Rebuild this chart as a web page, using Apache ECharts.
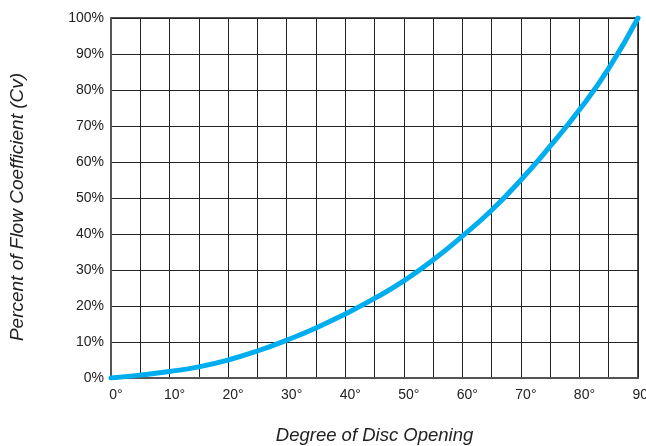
<!DOCTYPE html>
<html>
<head>
<meta charset="utf-8">
<script src="https://cdn.jsdelivr.net/npm/echarts@6/dist/echarts.min.js"></script>
<style>
html,body{margin:0;padding:0;background:#fff;}
#chart{width:646px;height:446px;}
</style>
</head>
<body>
<div id="chart"></div>
<script>
const degrees = [0, 5, 10, 15, 20, 25, 30, 35, 40, 45, 50, 55, 60, 65, 70, 75, 80, 85, 90];
const flowPercent = [0, 0.8, 1.8, 3.1, 5.0, 7.5, 10.5, 13.9, 17.8, 22.1, 27.0, 32.8, 39.4, 46.6, 55.0, 64.4, 74.5, 86.0, 100];
const xTitle = 'Degree of Disc Opening';
const yTitle = 'Percent of Flow Coefficient (Cv)';

const chart = echarts.init(document.getElementById('chart'), null, {renderer: 'canvas'});
const font = 'Liberation Sans, Arial, sans-serif';
chart.setOption({
  animation: false,
  backgroundColor: '#fff',
  grid: {left: 111, right: 8, top: 18, bottom: 68, show: true, borderColor: '#555', borderWidth: 2,
         outerBoundsMode: 'none', containLabel: false},
  xAxis: {
    type: 'value', min: 0, max: 90, interval: 5,
    name: xTitle, nameLocation: 'middle', nameGap: 48,
    nameTextStyle: {fontFamily: font, fontStyle: 'italic', fontSize: 18.5, color: '#222'},
    axisLine: {show: true, lineStyle: {color: '#555', width: 2}},
    axisTick: {show: false},
    axisLabel: {
      margin: 10, fontFamily: font, fontSize: 14, color: '#222', padding: [0, 0, 0, 10],
      formatter: v => (v % 10 === 0 ? v + '°' : '')
    },
    splitLine: {show: true, lineStyle: {color: '#222', width: 1}}
  },
  yAxis: {
    type: 'value', min: 0, max: 100, interval: 10,
    name: yTitle, nameLocation: 'middle', nameGap: 84,
    nameTextStyle: {fontFamily: font, fontStyle: 'italic', fontSize: 19, color: '#222', padding: [0, 18, 0, 0]},
    axisLine: {show: true, lineStyle: {color: '#555', width: 2}},
    axisTick: {show: false},
    axisLabel: {margin: 7, fontFamily: font, fontSize: 14, color: '#222', formatter: v => v + '%'},
    splitLine: {show: true, lineStyle: {color: '#222', width: 1}}
  },
  series: [{
    type: 'line',
    data: degrees.map((d, i) => [d, flowPercent[i]]),
    smooth: 0.5,
    symbol: 'none',
    lineStyle: {color: '#00AEEF', width: 5, cap: 'round'}
  }]
});
</script>
</body>
</html>
